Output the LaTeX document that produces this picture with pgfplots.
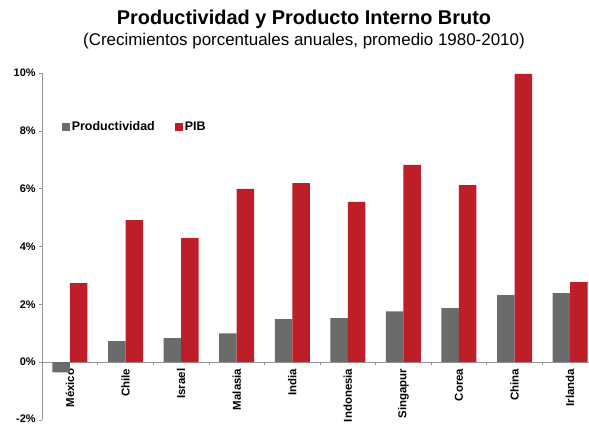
\documentclass[border=0pt]{standalone}
\usepackage{pgfplots}
\pgfplotsset{compat=1.18}
\usepackage{fontspec}
\setmainfont{Liberation Sans}
\definecolor{prodgray}{RGB}{106,108,108}
\definecolor{pibred}{RGB}{190,30,40}
\definecolor{axgray}{RGB}{150,150,150}
\begin{document}
\begin{tikzpicture}[x=1bp,y=1bp]
\useasboundingbox (0,0) rectangle (589,424);
\node[font=\bfseries\fontsize{20}{23}\selectfont] at (304,405) {Productividad y Producto Interno Bruto};
\node[font=\fontsize{17}{20}\selectfont] at (304,383) {(Crecimientos porcentuales anuales, promedio 1980-2010)};
\begin{axis}[
  at={(42.2bp,4bp)}, anchor=south west,
  scale only axis, width=546.8bp, height=347bp,
  ybar=0pt, bar width=17.5bp,
  xmin=-0.5, xmax=9.34, ymin=-2, ymax=10,
  axis x line=middle, axis y line=left,
  axis line style={-, axgray, line width=0.6pt},
  xtick={0,...,9},
  xticklabels={México,Chile,Israel,Malasia,India,Indonesia,Singapur,Corea,China,Irlanda},
  x tick label style={rotate=90, anchor=east, font=\bfseries\fontsize{11.5}{12}\selectfont},
  xtick style={draw=none},
  extra x ticks={0.5,1.5,...,8.5}, extra x tick labels={},
  extra x tick style={xtick style={draw=axgray, line width=0.6pt}, major tick length=3bp, tick align=outside},
  ytick={-2,0,...,10},
  yticklabels={\raisebox{3bp}{-2\%},0\%,2\%,4\%,6\%,8\%,10\%},
  y tick label style={font=\bfseries\fontsize{11}{12}\selectfont},
  ytick style={draw=axgray, line width=0.6pt}, major tick length=3bp, tick align=outside,
  legend style={draw=none, fill=none, at={(0.03,0.844)}, anchor=west, legend columns=2, font=\bfseries\fontsize{12.5}{14}\selectfont,
    /tikz/every even column/.append style={column sep=18bp}},
  legend image code/.code={\fill[#1] (0bp,-4bp) rectangle (8bp,4bp);},
  legend cell align=left,
  clip=false,
]
\addplot[fill=prodgray, draw=none] coordinates {(0,-0.35) (1,0.73) (2,0.83) (3,1.0) (4,1.49) (5,1.52) (6,1.76) (7,1.87) (8,2.32) (9,2.39)};
\addplot[fill=pibred, draw=none] coordinates {(0,2.73) (1,4.91) (2,4.29) (3,5.99) (4,6.19) (5,5.54) (6,6.82) (7,6.12) (8,9.97) (9,2.77)};
\legend{Productividad,PIB}
\end{axis}
\end{tikzpicture}
\end{document}
